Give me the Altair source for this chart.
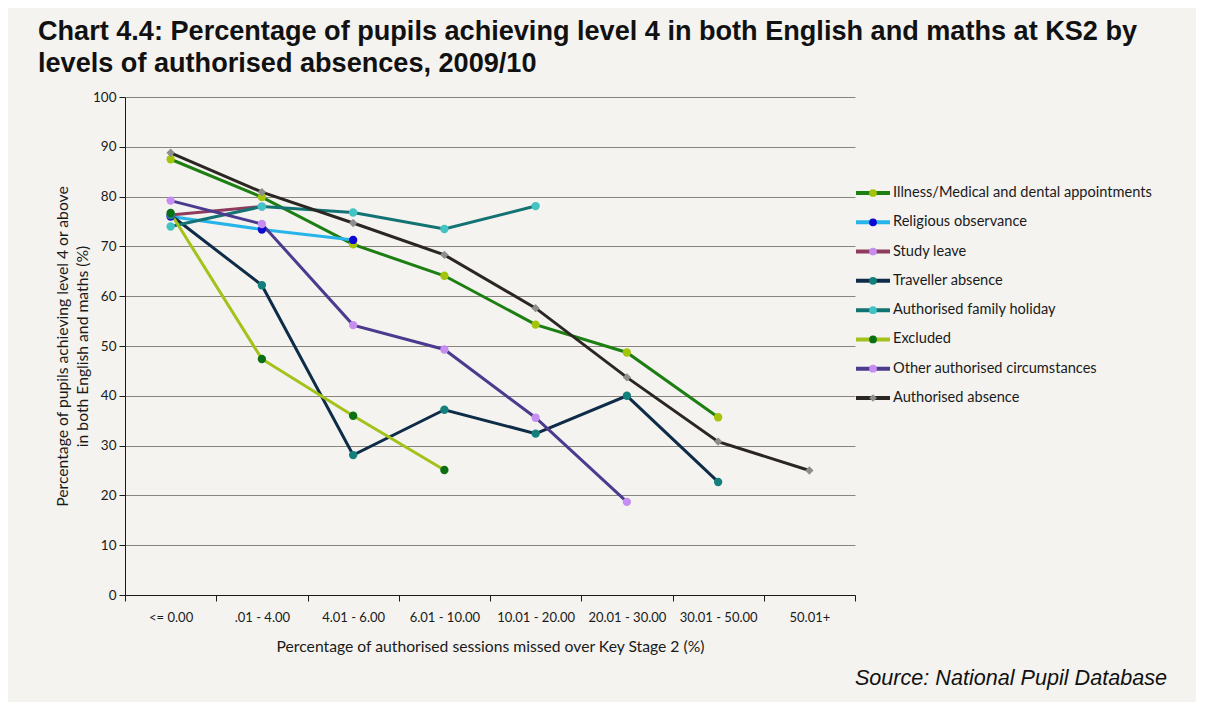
import json
import altair as alt
import pandas as pd

categories = ["<= 0.00", ".01 - 4.00", "4.01 - 6.00", "6.01 - 10.00",
              "10.01 - 20.00", "20.01 - 30.00", "30.01 - 50.00", "50.01+"]

series_names = ["Illness/Medical and dental appointments", "Religious observance",
                "Study leave", "Traveller absence", "Authorised family holiday",
                "Excluded", "Other authorised circumstances", "Authorised absence"]

illness = [87.5, 79.9, 70.4, 64.1, 54.3, 48.7, 35.7]
religious = [76.0, 73.4, 71.3]
study_leave = [76.3, 78.0]
traveller = [76.3, 62.2, 28.1, 37.2, 32.4, 40.0, 22.7]
family_holiday = [74.0, 78.0, 76.8, 73.5, 78.1]
excluded = [76.7, 47.4, 36.0, 25.1]
other = [79.2, 74.5, 54.2, 49.3, 35.6, 18.7]
authorised = [88.8, 80.9, 74.7, 68.3, 57.6, 43.7, 30.8, 25.0]

series_values = [illness, religious, study_leave, traveller, family_holiday,
                 excluded, other, authorised]

line_colors = ["#1d7e12", "#27b4ea", "#8e3b5e", "#0e2c48", "#137373",
               "#a3c21a", "#4b3a8e", "#2b2622"]
marker_colors = ["#a4c40c", "#0a0ad0", "#c58ef0", "#13807c", "#43c3c3",
                 "#0b7014", "#c58ef0", "#8e8e8e"]
marker_shapes = ["circle"] * 7 + ["diamond"]

title_lines = ["Chart 4.4: Percentage of pupils achieving level 4 in both English and maths at KS2 by",
               "levels of authorised absences, 2009/10"]
y_title = ["Percentage of pupils achieving level 4 or above", "in both English and maths (%)"]
x_title = "Percentage of authorised sessions missed over Key Stage 2 (%)"
source_text = "Source: National Pupil Database"

rows = []
for name, vals, lc, mc, sh in zip(series_names, series_values, line_colors, marker_colors, marker_shapes):
    for i, v in enumerate(vals):
        rows.append({"series": name, "category": categories[i], "pos": i + 0.5,
                     "value": v, "line_color": lc, "marker_color": mc, "shape": sh})
df = pd.DataFrame(rows)

leg_df = pd.DataFrame({"series": series_names, "line_color": line_colors,
                       "marker_color": marker_colors, "shape": marker_shapes})

W, H = 730, 498
FONT = "Lato"

label_expr = json.dumps(categories) + "[datum.value] || ''"

x_enc = alt.X("pos:Q", scale=alt.Scale(domain=[0, len(categories)], nice=False, zero=False),
              axis=alt.Axis(values=list(range(len(categories) + 1)), labelExpr=label_expr,
                            labelOffset=W / len(categories) / 2, labelFlush=False,
                            labelOverlap=False, labelBound=False, grid=False,
                            labelPadding=10, labelFontSize=13,
                            title=x_title, titlePadding=15))
y_scale = alt.Scale(domain=[0, 100], nice=False)

lines = alt.Chart(df).mark_line(strokeWidth=3).encode(
    x=x_enc,
    y=alt.Y("value:Q", scale=y_scale,
            axis=alt.Axis(values=list(range(0, 101, 10)), grid=True, title=y_title,
                          titlePadding=2, titleLineHeight=20)),
    detail="series:N",
    color=alt.Color("line_color:N", scale=None),
    order="pos:Q",
)

points = alt.Chart(df).mark_point(filled=True, size=70, opacity=1).encode(
    x=alt.X("pos:Q"),
    y=alt.Y("value:Q", scale=y_scale, axis=None),
    fill=alt.Fill("marker_color:N", scale=None),
    shape=alt.Shape("shape:N", scale=None),
)

leg_y = alt.Y("series:N",
              scale=alt.Scale(type="point", domain=series_names, range=[96, 301], padding=0),
              axis=None)

leg_rule = alt.Chart(leg_df).mark_rule(strokeWidth=4).encode(
    x=alt.value(731), x2=alt.value(765), y=leg_y,
    color=alt.Color("line_color:N", scale=None),
)
leg_point = alt.Chart(leg_df).mark_point(filled=True, size=60, opacity=1).encode(
    x=alt.value(748), y=leg_y,
    fill=alt.Fill("marker_color:N", scale=None),
    shape=alt.Shape("shape:N", scale=None),
)
leg_text = alt.Chart(leg_df).mark_text(align="left", baseline="middle", font=FONT,
                                       fontSize=14.6, color="#1a1a1a").encode(
    x=alt.value(768), y=leg_y, text="series:N",
)

source = alt.Chart(pd.DataFrame({"t": [source_text]})).mark_text(
    align="right", baseline="alphabetic", font="Liberation Sans", fontStyle="italic",
    fontSize=21.6, color="#111111").encode(
    x=alt.value(1042), y=alt.value(588), text="t:N",
)

chart = alt.layer(lines, points, leg_rule, leg_point, leg_text, source).resolve_scale(
    y="independent"
).properties(
    width=W, height=H,
    autosize=alt.AutoSizeParams(type="none"),
    padding={"left": 117, "top": 89, "right": 341, "bottom": 107},
    background="#f4f3f0",
    title=alt.TitleParams(text=title_lines, anchor="start", frame="group", dx=-87,
                          offset=12, font="Liberation Sans", fontSize=27.1,
                          fontWeight="bold", color="#111111", lineHeight=32),
).configure_view(stroke=None).configure_axis(
    labelFont=FONT, titleFont=FONT, labelFontSize=13, titleFontSize=15.7,
    labelColor="#1a1a1a", titleColor="#1a1a1a", titleFontWeight="normal",
    domainColor="#1a1a1a", tickColor="#1a1a1a", tickSize=6, labelPadding=4,
    gridColor="#8a847e", gridWidth=1,
).configure_axisY(labelFontSize=13.5, labelPadding=3)

chart.save("out.html", embed_options={"renderer": "svg", "actions": False})
